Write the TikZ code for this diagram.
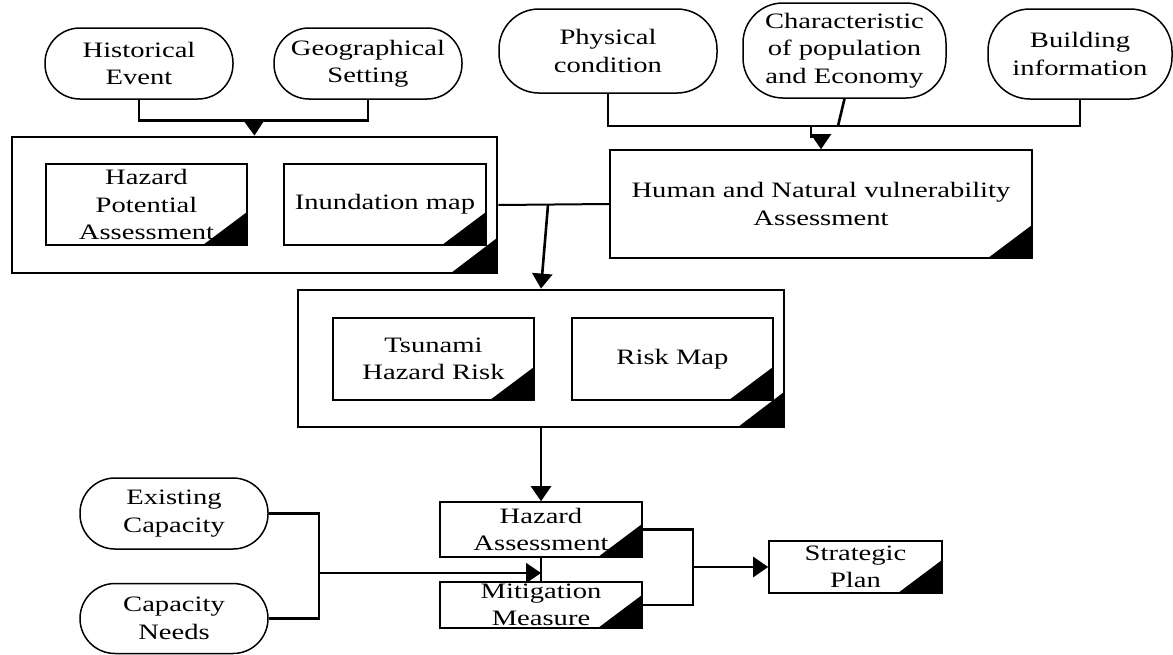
\documentclass[tikz,border=0pt]{standalone}
\usepackage{fontspec}
\setmainfont[FakeStretch=1.3]{Liberation Serif}
\usetikzlibrary{arrows.meta}
\begin{document}
\begin{tikzpicture}[x=1pt,y=-1pt,
  txt/.style={font=\fontsize{22}{27.5}\selectfont, align=center, inner sep=0pt},
  term/.style={txt, draw, line width=1.5pt, rounded corners=35pt},
  docbox/.style={txt, draw, line width=1.6pt,
    path picture={\fill[black] ([xshift=-44pt]path picture bounding box.south east) -- (path picture bounding box.south east) -- ([yshift=33pt]path picture bounding box.south east) -- cycle;}},
  groupbox/.style={draw, line width=2.8pt, inner sep=0pt,
    path picture={\fill[black] ([xshift=-46pt]path picture bounding box.south east) -- (path picture bounding box.south east) -- ([yshift=35pt]path picture bounding box.south east) -- cycle;}},
  conn/.style={line width=2.6pt},
  arr/.style={line width=2.6pt, -{Triangle[length=15pt,width=20pt]}}
]
\useasboundingbox (0,0) rectangle (1173,654);

% inputs
\node[term, minimum width=188pt, minimum height=71pt] (hist) at (139,63.5) {Historical\\Event};
\node[term, minimum width=188pt, minimum height=71pt] (geo) at (368,63.5) {Geographical\\Setting};
\node[term, rounded corners=40pt, minimum width=218pt, minimum height=84pt] (phys) at (608,51) {Physical\\condition};
\node[term, rounded corners=40pt, minimum width=203pt, minimum height=95pt] (char) at (844.5,50.5) {Characteristic\\of population\\and Economy};
\node[term, rounded corners=42pt, minimum width=184pt, minimum height=90pt] (build) at (1080,54) {Building\\information};

% group 1
\node[groupbox, minimum width=485pt, minimum height=136pt] (box1) at (254.5,205) {};
\node[docbox, minimum width=201pt, minimum height=81pt] (hpa) at (146.5,204.5) {Hazard\\Potential\\Assessment};
\node[docbox, minimum width=202pt, minimum height=81pt] (inund) at (385,204.5) {Inundation map};

% vulnerability
\node[docbox, minimum width=422pt, minimum height=108pt] (human) at (821,204) {Human and Natural vulnerability\\Assessment};

% group 2
\node[groupbox, minimum width=486pt, minimum height=137pt] (box2) at (541,358.5) {};
\node[docbox, minimum width=201pt, minimum height=82pt] (tsu) at (433.5,359) {Tsunami\\Hazard Risk};
\node[docbox, minimum width=201pt, minimum height=82pt] (risk) at (672.5,359) {Risk Map};

% bottom
\node[docbox, minimum width=202pt, minimum height=55pt] (ha) at (541,529.5) {Hazard\\Assessment};
\node[docbox, minimum width=202pt, minimum height=46pt] (mm) at (541,605) {Mitigation\\Measure};
\node[docbox, minimum width=173pt, minimum height=52pt] (sp) at (855.5,567) {Strategic\\Plan};
\node[term, minimum width=188pt, minimum height=71pt] (exist) at (174,513.5) {Existing\\Capacity};
\node[term, minimum width=188pt, minimum height=70pt] (need) at (174,618.5) {Capacity\\Needs};

% coordinates
\coordinate (j1) at (254,120);
\coordinate (j2) at (811,126);
\coordinate (j2b) at (821,137);
\coordinate (j3) at (838,126);
\coordinate (j4) at (548,205);
\coordinate (j5) at (319,573);
\coordinate (j6) at (541,573);
\coordinate (j7) at (693,567);

% connectors
\draw[conn] (hist.south) -- ++(0,21) -| (geo.south);
\draw[arr] (j1) -- (box1.north);
\draw[conn] (phys.south) |- (j2) -| (build.south);
\draw[conn] (char.south) -- (j3);
\draw[arr, line width=2pt] (j2) |- (j2b) -- (human.north);
\draw[conn, line width=2pt] (box1.east) -- (human.west);
\draw[arr] (j4) -- (box2.north);
\draw[arr] (box2.south) -- (ha.north);
\draw[conn] (ha.south) -- (mm.north);
\draw[conn] (exist.east) -| (j5) |- (need.east);
\draw[arr, line width=1.8pt] (j5) -- (j6);
\draw[conn] (ha.east) -| (j7) |- (mm.east);
\draw[arr] (j7) -- (sp.west);
\end{tikzpicture}
\end{document}
